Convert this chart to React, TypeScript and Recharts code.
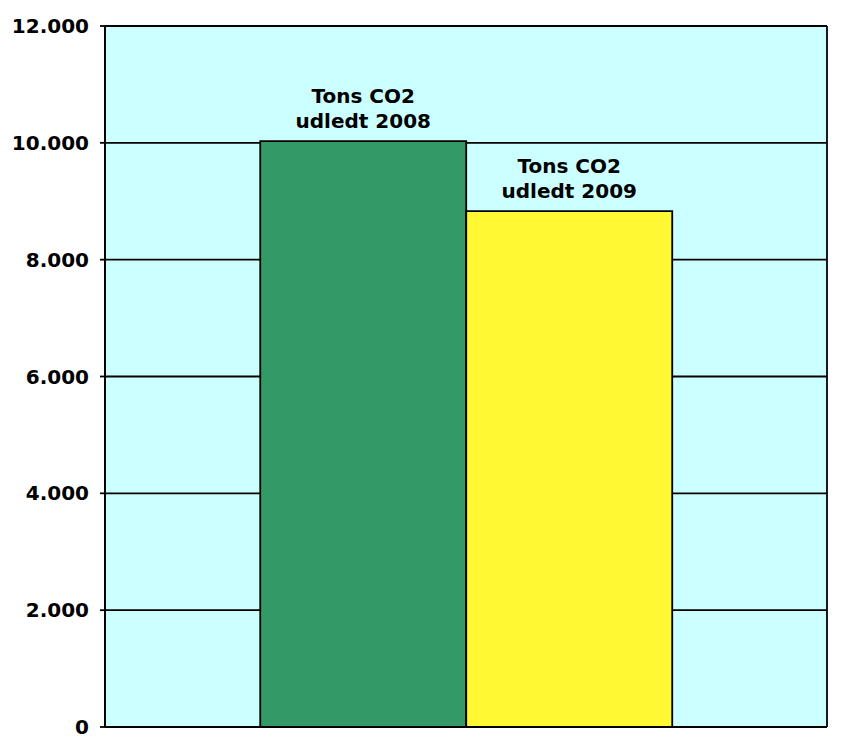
import { BarChart, Bar, XAxis, YAxis, CartesianGrid, LabelList } from 'recharts';

const categories = [''];
const tons2008 = [10030];
const tons2009 = [8830];
const yTicks = [0, 2000, 4000, 6000, 8000, 10000, 12000];
const label2008 = ['Tons CO2', 'udledt 2008'];
const label2009 = ['Tons CO2', 'udledt 2009'];

const data = categories.map((name, i) => ({ name, y2008: tons2008[i], y2009: tons2009[i] }));

const FONT = '"DejaVu Sans", Verdana, sans-serif';

const fmt = (v: number) => String(v).replace(/\B(?=(\d{3})+(?!\d))/g, '.');

// two-line label centred above a bar
const makeLabel = (lines: string[]) => (props: any) => {
  const { x, y, width } = props;
  const cx = Number(x) + Number(width) / 2;
  return (
    <g>
      <text x={cx} y={Number(y) - 38} textAnchor="middle" fontFamily={FONT} fontWeight="bold" fontSize={20} fill="#000">
        {lines[0]}
      </text>
      <text x={cx} y={Number(y) - 13} textAnchor="middle" fontFamily={FONT} fontWeight="bold" fontSize={20} fill="#000">
        {lines[1]}
      </text>
    </g>
  );
};

// left and right edges of the plot frame
const frameX = ({ offset }: any) => [offset.left, offset.left + offset.width];

export default function App() {
  return (
    <div style={{ position: 'absolute', left: 0, top: 0, width: 846, height: 752, background: '#fff' }}>
      <BarChart
        width={846}
        height={752}
        data={data}
        margin={{ top: 26, right: 19, bottom: 24, left: 0 }}
        barCategoryGap="21.5%"
        barGap={0}
      >
        <CartesianGrid
          stroke="#000"
          strokeWidth={1.8}
          fill="#CCFFFF"
          fillOpacity={1}
          verticalCoordinatesGenerator={frameX}
        />
        <XAxis dataKey="name" tick={false} tickLine={false} height={1} axisLine={{ stroke: '#000', strokeWidth: 1.8 }} />
        <YAxis
          domain={[0, 12000]}
          ticks={yTicks}
          width={105}
          tickFormatter={fmt}
          tickSize={5}
          tickMargin={11}
          interval={0}
          axisLine={{ stroke: '#000', strokeWidth: 1.8 }}
          tickLine={{ stroke: '#000', strokeWidth: 1.8 }}
          tick={{ fill: '#000', fontFamily: FONT, fontWeight: 'bold', fontSize: 20 }}
        />
        <Bar dataKey="y2008" fill="#339966" stroke="#000" strokeWidth={1.8} isAnimationActive={false}>
          <LabelList dataKey="y2008" content={makeLabel(label2008)} />
        </Bar>
        <Bar dataKey="y2009" fill="#FFF833" stroke="#000" strokeWidth={1.8} isAnimationActive={false}>
          <LabelList dataKey="y2009" content={makeLabel(label2009)} />
        </Bar>
      </BarChart>
    </div>
  );
}
